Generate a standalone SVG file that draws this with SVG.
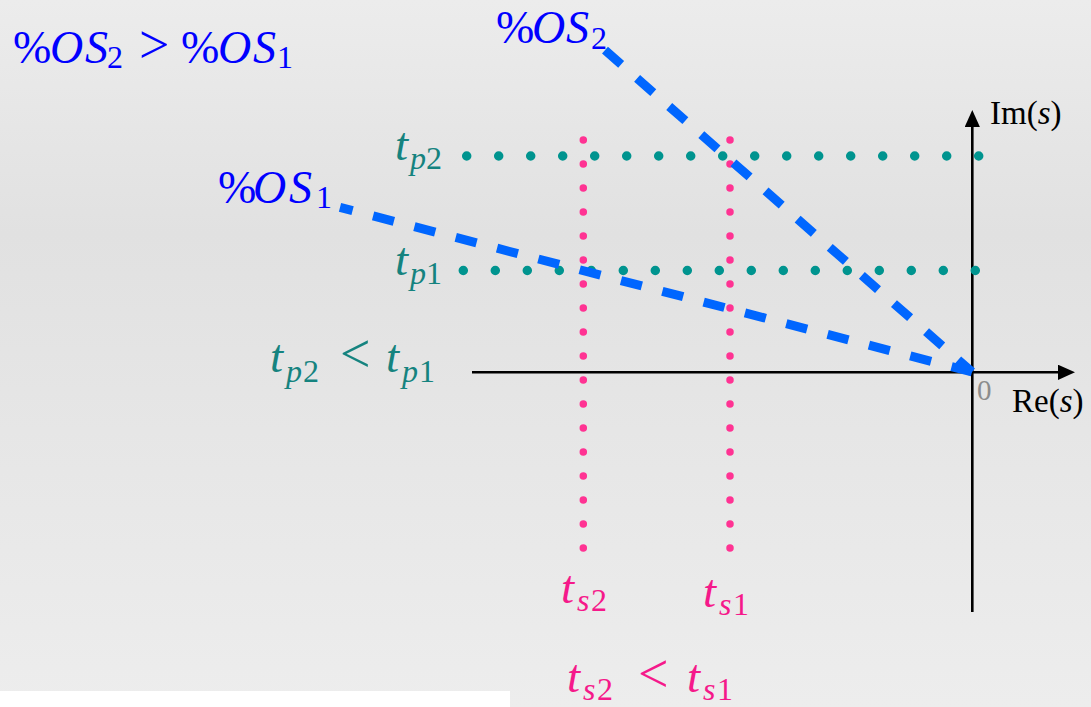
<svg xmlns="http://www.w3.org/2000/svg" width="1091" height="707" viewBox="0 0 1091 707">
<defs>
<linearGradient id="bg" x1="0" y1="0" x2="0" y2="1">
<stop offset="0" stop-color="#ececec"/>
<stop offset="0.33" stop-color="#e1e1e1"/>
<stop offset="1" stop-color="#ededed"/>
</linearGradient>
<marker id="arr" markerUnits="userSpaceOnUse" markerWidth="18" markerHeight="16" refX="2" refY="7.6" orient="auto">
<path d="M0,0 L17,7.6 L0,15.2 Z" fill="#000"/>
</marker>
<style>
text{font-family:"Liberation Serif","DejaVu Serif",serif;}
.blue{fill:#0000ff;font-size:46px;}
.teal{fill:#15837f;font-size:47px;}
.pink{fill:#f5198a;font-size:47px;}
.sub{font-size:32px;}
.rel{font-size:54px;}
.i{font-style:italic;}
.ax{stroke:#000;stroke-width:2.6;fill:none;}
.axl{fill:#000;font-size:33px;}
.tdot{stroke:#00948f;stroke-width:9.5;stroke-linecap:round;stroke-dasharray:0 32;fill:none;}
.pdot{stroke:#ff3393;stroke-width:7.5;stroke-linecap:round;stroke-dasharray:0 24;fill:none;}
.os{stroke:#0066ff;stroke-width:9;fill:none;stroke-dasharray:21.5 21.2;}
</style>
</defs>
<rect x="0" y="0" width="1091" height="707" fill="url(#bg)"/>
<rect x="0" y="691" width="510" height="16" fill="#ffffff"/>

<g id="connectors">
<g id="axes">
<line class="ax" x1="472" y1="372.3" x2="1060" y2="372.3" marker-end="url(#arr)"/>
<line class="ax" x1="972.3" y1="612" x2="972.3" y2="125" marker-end="url(#arr)"/>
</g>
<g id="tp-lines">
<line class="tdot" x1="466.7" y1="156" x2="979.5" y2="156"/>
<line class="tdot" x1="463.3" y1="270.5" x2="976" y2="270.5"/>
</g>
<g id="ts-lines">
<line class="pdot" x1="583.3" y1="140" x2="583.3" y2="548.8"/>
<line class="pdot" x1="730" y1="140" x2="730" y2="548.8"/>
</g>
<g id="os-lines">
<line class="os" x1="340" y1="207.3" x2="972" y2="372" stroke-dashoffset="8.5"/>
<line class="os" x1="605" y1="50.2" x2="972" y2="372"/>
</g>
</g>

<g id="label-os-compare">
<text class="blue" y="63"><tspan x="13">%</tspan><tspan class="i" x="50">O</tspan><tspan class="i" x="85">S</tspan><tspan class="sub" x="107" y="68">2</tspan><tspan class="rel" x="139" y="63">&gt;</tspan><tspan x="181">%</tspan><tspan class="i" x="218">O</tspan><tspan class="i" x="253">S</tspan><tspan class="sub" x="277" y="68">1</tspan></text>
</g>
<g id="label-os2">
<text class="blue" y="43"><tspan x="496">%</tspan><tspan class="i" x="532">O</tspan><tspan class="i" x="566">S</tspan><tspan class="sub" x="591" y="49">2</tspan></text>
</g>
<g id="label-os1">
<text class="blue" y="203"><tspan x="218">%</tspan><tspan class="i" x="253">O</tspan><tspan class="i" x="289">S</tspan><tspan class="sub" x="316" y="208">1</tspan></text>
</g>
<g id="label-tp2">
<text class="teal" y="160"><tspan class="i" x="395">t</tspan><tspan class="i sub" x="410" y="169">p</tspan><tspan class="sub" x="426">2</tspan></text>
</g>
<g id="label-tp1">
<text class="teal" y="275"><tspan class="i" x="395">t</tspan><tspan class="i sub" x="410" y="284">p</tspan><tspan class="sub" x="426">1</tspan></text>
</g>
<g id="label-tp-compare">
<text class="teal" y="372"><tspan class="i" x="270">t</tspan><tspan class="i sub" x="286" y="382">p</tspan><tspan class="sub" x="303">2</tspan><tspan class="rel" x="340" y="372">&lt;</tspan><tspan class="i" x="386">t</tspan><tspan class="i sub" x="402" y="382">p</tspan><tspan class="sub" x="419">1</tspan></text>
</g>
<g id="label-ts2">
<text class="pink" y="603"><tspan class="i" x="561">t</tspan><tspan class="i sub" x="577" y="611">s</tspan><tspan class="sub" x="591">2</tspan></text>
</g>
<g id="label-ts1">
<text class="pink" y="607"><tspan class="i" x="703">t</tspan><tspan class="i sub" x="719" y="615">s</tspan><tspan class="sub" x="733">1</tspan></text>
</g>
<g id="label-ts-compare">
<text class="pink" y="692"><tspan class="i" x="567">t</tspan><tspan class="i sub" x="583" y="700">s</tspan><tspan class="sub" x="597">2</tspan><tspan class="rel" x="638" y="692">&lt;</tspan><tspan class="i" x="687">t</tspan><tspan class="i sub" x="703" y="700">s</tspan><tspan class="sub" x="717">1</tspan></text>
</g>
<g id="label-im">
<text class="axl" x="990" y="124">Im(<tspan class="i">s</tspan>)</text>
</g>
<g id="label-re">
<text class="axl" x="1012" y="411.7">Re(<tspan class="i">s</tspan>)</text>
</g>
<g id="label-origin">
<text x="977" y="399.5" font-size="29" fill="#8c8c8c">0</text>
</g>
</svg>
